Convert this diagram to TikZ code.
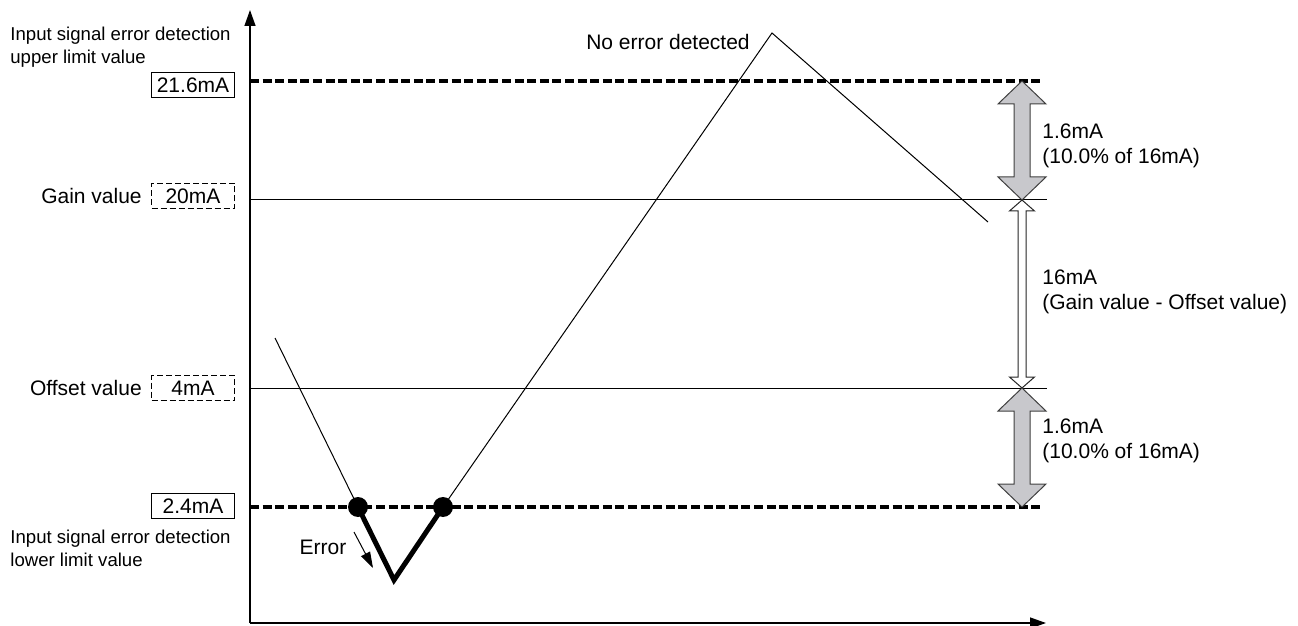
\documentclass[tikz,border=0pt]{standalone}
\usepackage{fontspec}
\setmainfont{Liberation Sans}
\usepackage{xcolor}
\usepackage{tikz}
\usetikzlibrary{arrows.meta,positioning}
\definecolor{arrowgray}{RGB}{200,200,204}
% double headed block arrow: style, x, top y, bottom y, head length, head half width, shaft half width
\newcommand{\dimarrow}[7]{%
  \filldraw[#1] (#2,#3) -- ({#2+#6},{#3+#5}) -- ({#2+#7},{#3+#5}) -- ({#2+#7},{#4-#5})
    -- ({#2+#6},{#4-#5}) -- (#2,#4) -- ({#2-#6},{#4-#5}) -- ({#2-#7},{#4-#5})
    -- ({#2-#7},{#3+#5}) -- ({#2-#6},{#3+#5}) -- cycle;}

\begin{document}
\begin{tikzpicture}[
  x=0.5pt, y=-0.5pt,
  every node/.style={font=\fontsize{10.5}{12.5}\selectfont, inner sep=0pt},
  note/.style={font=\fontsize{9.3}{11.5}\selectfont, align=left},
  valbox/.style={draw, line width=0.6pt, minimum width=41.5pt, minimum height=12.5pt},
  dashbox/.style={valbox, line width=0.4pt, dash pattern=on 3pt off 1.5pt},
  axis/.style={line width=0.7pt, -{Triangle[length=8pt,width=5.5pt]}},
  level/.style={line width=0.5pt},
  limit/.style={line width=2pt, dash pattern=on 4.5pt off 1.8pt},
  signal/.style={line width=0.5pt},
  fault/.style={line width=2.5pt},
  dot/.style={circle, fill, minimum size=10pt},
  graydim/.style={draw=black!75, fill=arrowgray, line width=0.5pt},
  whitedim/.style={draw=black!85, fill=white, line width=0.5pt}
]
  \useasboundingbox (0,0) rectangle (1298,626);

  % axes
  \coordinate (orig) at (250,623);
  \coordinate (ytip) at (250,10);
  \coordinate (xtip) at (1046,623);
  \draw[axis] (orig) -- (ytip);
  \draw[axis] (orig) -- (xtip);

  % levels
  \coordinate (upL) at (250,81);   \coordinate (upR) at (1040,81);
  \coordinate (gainL) at (250,200); \coordinate (gainR) at (1047,200);
  \coordinate (offL) at (250,388);  \coordinate (offR) at (1047,388);
  \coordinate (lowL) at (250,507);  \coordinate (lowR) at (1040,507);
  \draw[limit] (upL) -- (upR);
  \draw[level] (gainL) -- (gainR);
  \draw[level] (offL) -- (offR);
  \draw[limit] (lowL) -- (lowR);

  % value boxes and labels
  \node[valbox] (upbox) at (193,85) {21.6mA};
  \node[dashbox] (gainbox) at (193,196) {20mA};
  \node[dashbox] (offbox) at (193,388) {4mA};
  \node[valbox] (lowbox) at (193,506) {2.4mA};
  \node[left=4.5pt of gainbox] (gaintxt) {Gain value};
  \node[left=4.5pt of offbox] (offtxt) {Offset value};
  \node[note, anchor=west] (uptxt) at (10,47.5) {Input signal error detection\\upper limit value};
  \node[note, anchor=west] (lowtxt) at (10,548.5) {Input signal error detection\\lower limit value};

  % input signal
  \coordinate (s0) at (275,338);
  \node[dot] (d1) at (358,507) {};
  \node[dot] (d2) at (443,507) {};
  \coordinate (vbot) at (394,580);
  \coordinate (peak) at (772,33);
  \coordinate (s1) at (988,222);
  \draw[signal] (s0) -- (d1.center);
  \draw[fault] (d1.center) -- (vbot) -- (d2.center);
  \draw[signal] (d2.center) -- (peak) -- (s1);

  \node (oktxt) at (668,42) {No error detected};
  \node (errtxt) at (323,547) {Error};
  \coordinate (e0) at (354,532);
  \coordinate (e1) at (373,568);
  \draw[line width=0.5pt, -{Triangle[length=8pt,width=5pt]}] (e0) -- (e1);

  % ranges
  \dimarrow{graydim}{1022}{81}{200}{23}{24}{8}
  \dimarrow{whitedim}{1022}{200}{388}{11}{12.5}{4}
  \dimarrow{graydim}{1022}{388}{507}{23}{24}{8}
  \node[align=left, anchor=west] (uprng) at (1042,145.5) {1.6mA\\(10.0\% of 16mA)};
  \node[align=left, anchor=west] (midrng) at (1042,291.5) {16mA\\(Gain value - Offset value)};
  \node[align=left, anchor=west] (lowrng) at (1042,440.5) {1.6mA\\(10.0\% of 16mA)};
\end{tikzpicture}
\end{document}
